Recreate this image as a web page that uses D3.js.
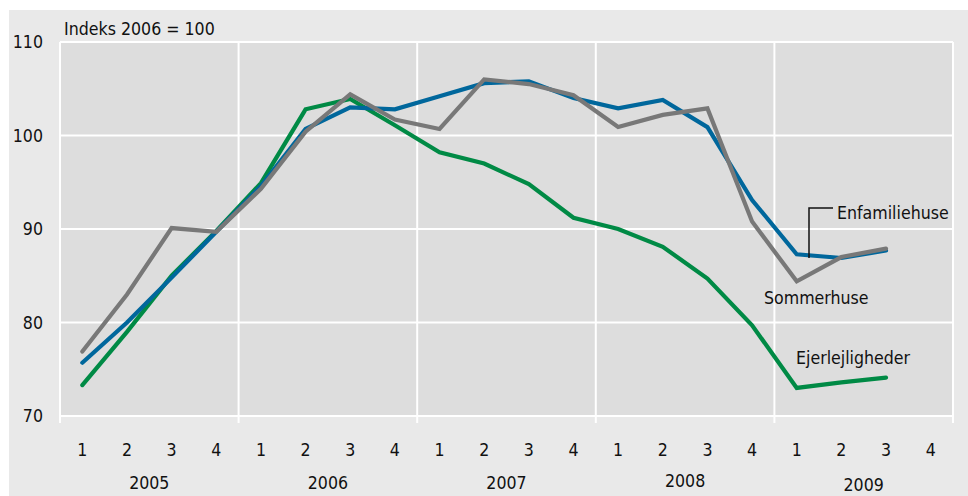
<!DOCTYPE html>
<html><head><meta charset="utf-8">
<script src="https://cdn.jsdelivr.net/npm/d3@7"></script>
<style>body{margin:0;background:#fff}svg text{font-family:'Liberation Sans Narrow','DejaVu Sans Condensed','Arial Narrow',sans-serif;fill:#111}</style>
</head><body><svg id="c" width="968" height="496"></svg>
<script>
const years = ["2005","2006","2007","2008","2009"];
const quarters = ["1","2","3","4"];
const yTicks = [70,80,90,100,110];
const enfamiliehuse = [75.7,80.0,84.8,89.7,94.6,100.7,103.0,102.8,104.2,105.6,105.8,104.0,102.9,103.8,100.9,93.1,87.3,86.9,87.7];
const sommerhuse = [76.9,83.0,90.1,89.7,94.3,100.4,104.4,101.7,100.7,106.0,105.5,104.3,100.9,102.2,102.9,90.8,84.4,87.0,87.9];
const ejerlejligheder = [73.3,79.0,85.0,89.8,94.9,102.8,103.9,101.1,98.2,97.0,94.8,91.2,90.0,88.1,84.7,79.7,73.0,73.6,74.1];

const svg = d3.select("#c");
const L=60,R=953,T=42,B=416;
const FS = 17.6;
svg.append("rect").attr("x",9).attr("y",10).attr("width",959).attr("height",486).attr("fill","#e9e9e9");
svg.append("rect").attr("x",L).attr("y",T).attr("width",R-L).attr("height",B-T).attr("fill","#dddddd");

const slots = [];
years.forEach(y=>quarters.forEach(q=>slots.push(y+"-"+q)));
const x = d3.scaleBand().domain(slots).range([L,R]);
const xc = i => x(slots[i]) + x.bandwidth()/2;
const y = d3.scaleLinear().domain([70,110]).range([B,T]);

svg.append("g").selectAll("line").data(yTicks).join("line")
  .attr("x1",L).attr("x2",R).attr("y1",d=>y(d)).attr("y2",d=>y(d))
  .attr("stroke","#fff").attr("stroke-width",2);
const yearX = d3.scaleBand().domain(years).range([L,R]);
const bounds = years.map(d=>yearX(d)).concat([R]);
svg.append("g").selectAll("line").data(bounds).join("line")
  .attr("x1",d=>d).attr("x2",d=>d).attr("y1",T).attr("y2",B+7)
  .attr("stroke","#fff").attr("stroke-width",2);

svg.append("g").selectAll("text").data(yTicks).join("text")
  .attr("x",43).attr("y",d=>y(d)).attr("dy","0.35em").attr("text-anchor","end")
  .attr("font-size",FS).text(d=>d);
svg.append("g").selectAll("text").data(slots).join("text")
  .attr("x",d=>x(d)+x.bandwidth()/2).attr("y",450).attr("dy","0.35em").attr("text-anchor","middle")
  .attr("font-size",FS).text(d=>d.split("-")[1]);
const yearDy = {"2005":0,"2006":0,"2007":0,"2008":-2,"2009":2};
svg.append("g").selectAll("text").data(years).join("text")
  .attr("x",d=>yearX(d)+yearX.bandwidth()/2).attr("y",d=>483+yearDy[d]).attr("dy","0.35em").attr("text-anchor","middle")
  .attr("font-size",FS).text(d=>d);

svg.append("text").attr("x",64).attr("y",35).attr("font-size",FS).text("Indeks 2006 = 100");

const line = d3.line().x((d,i)=>xc(i)).y(d=>y(d));
const series = [
  {v:ejerlejligheder,c:"#008a45"},
  {v:enfamiliehuse,c:"#00679c"},
  {v:sommerhuse,c:"#787878"}
];
series.forEach(s=>{
  svg.append("path").datum(s.v).attr("d",line).attr("fill","none")
    .attr("stroke",s.c).attr("stroke-width",4.2).attr("stroke-linejoin","miter").attr("stroke-linecap","round");
});

svg.append("path").attr("d","M833,208H809V258").attr("fill","none").attr("stroke","#111").attr("stroke-width",1.5);
svg.append("text").attr("x",837).attr("y",213).attr("dy","0.35em").attr("font-size",FS).text("Enfamiliehuse");
svg.append("text").attr("x",764).attr("y",298).attr("dy","0.35em").attr("font-size",FS).text("Sommerhuse");
svg.append("text").attr("x",796).attr("y",358).attr("dy","0.35em").attr("font-size",FS).text("Ejerlejligheder");
</script></body></html>
